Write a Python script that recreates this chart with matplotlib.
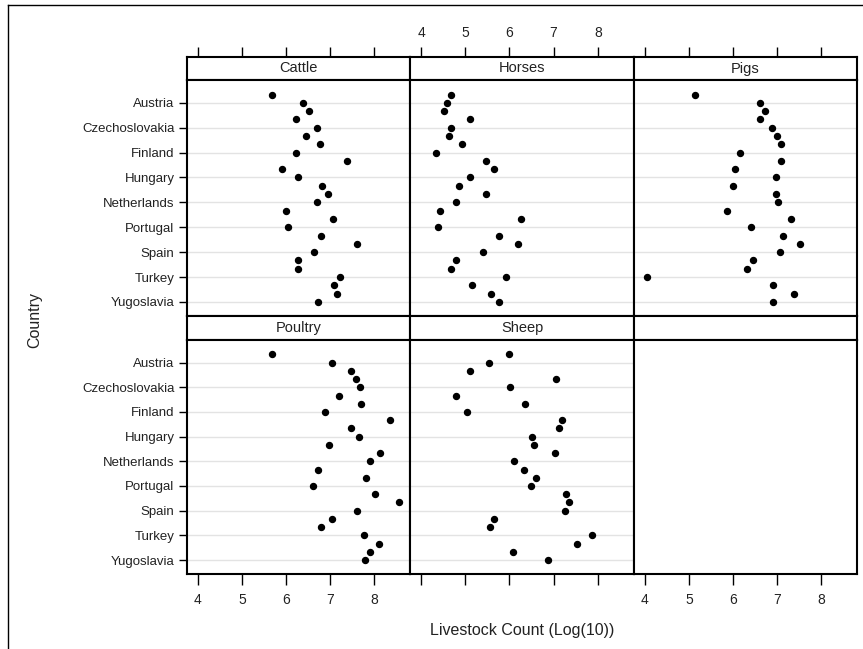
import numpy as np
import matplotlib
matplotlib.use('Agg')
import matplotlib.pyplot as plt
from matplotlib.lines import Line2D

plt.rcParams['font.family'] = ['Liberation Sans', 'DejaVu Sans']

# Data: log10 of livestock counts per country
paises = ['Albania', 'Austria', 'Belgium', 'Bulgaria', 'Czechoslovakia', 'Denmark',
          'East Germany', 'Finland', 'France', 'Greece', 'Hungary', 'Ireland', 'Italy',
          'Netherlands', 'Norway', 'Poland', 'Portugal', 'Romania', 'Soviet Union',
          'Spain', 'Sweden', 'Switzerland', 'Turkey', 'UK', 'West Germany', 'Yugoslavia']

cattle = [5.69, 6.39, 6.52, 6.23, 6.70, 6.45, 6.77, 6.23, 7.38, 5.91, 6.27, 6.83, 6.95,
          6.70, 5.99, 7.07, 6.05, 6.80, 7.62, 6.64, 6.27, 6.27, 7.23, 7.10, 7.16, 6.73]
horses = [4.67, 4.58, 4.52, 5.10, 4.67, 4.64, 4.92, 4.33, 5.47, 5.65, 5.10, 4.86, 5.47,
          4.80, 4.42, 6.27, 4.39, 5.77, 6.20, 5.41, 4.80, 4.67, 5.92, 5.16, 5.59, 5.77]
pigs = [5.13, 6.61, 6.73, 6.61, 6.88, 7.01, 7.10, 6.17, 7.10, 6.05, 6.98, 6.01, 6.98,
        7.03, 5.87, 7.31, 6.42, 7.14, 7.52, 7.06, 6.45, 6.33, 4.05, 6.92, 7.38, 6.92]
poultry = [5.69, 7.04, 7.47, 7.59, 7.68, 7.20, 7.71, 6.89, 8.36, 7.47, 7.65, 6.98, 8.14,
           7.92, 6.73, 7.81, 6.61, 8.02, 8.57, 7.62, 7.04, 6.80, 7.77, 8.11, 7.90, 7.80]
sheep = [5.98, 5.53, 5.10, 7.06, 6.01, 4.80, 6.36, 5.04, 7.19, 7.13, 6.52, 6.55, 7.03,
         6.11, 6.33, 6.61, 6.48, 7.28, 7.34, 7.25, 5.65, 5.56, 7.86, 7.52, 6.08, 6.88]

animais = ['Cattle', 'Horses', 'Pigs', 'Poultry', 'Sheep', '']
valores = [cattle, horses, pigs, poultry, sheep, None]
ticks_x = [4, 5, 6, 7, 8]

W, H = 863, 649
fig = plt.figure(figsize=(W / 100, H / 100), dpi=100)

def caixa(l, t, w, h):
    return fig.add_axes([l / W, 1 - (t + h) / H, w / W, h / H])

def bordas(ax):
    for s in ax.spines.values():
        s.set_linewidth(1.5)
        s.set_color('black')

colunas = [(187, 223), (410, 224), (634, 223)]
linhas = [(57, 23, 80, 236), (316, 24, 340, 234)]
xlim = (3.75, 8.82)
linhas_y = np.arange(len(paises))
y_marcadas = linhas_y[1::3]

for i in range(6):
    r, c = divmod(i, 3)
    l, w = colunas[c]
    th, hh, tp, hp = linhas[r]

    # Cabeçalho com o nome do animal
    cab = caixa(l, th, w, hh)
    cab.set_xlim(xlim)
    cab.set_yticks([])
    cab.text(0.5, 0.5, animais[i], ha='center', va='center', fontsize=10.5,
             color='#222222', transform=cab.transAxes)
    bordas(cab)
    if r == 0:
        cab.set_xticks(ticks_x)
        cab.tick_params(axis='x', top=True, bottom=False, labelbottom=False,
                        labeltop=(c == 1), direction='out', length=7, width=1,
                        pad=5, labelsize=10, labelcolor='#222222')
    else:
        cab.set_xticks([])

    # Painel com os pontos
    ax = caixa(l, tp, w, hp)
    ax.set_xlim(xlim)
    ax.set_ylim(len(paises) - 1 + 1.7, -1.75)
    bordas(ax)
    if valores[i] is not None:
        ax.set_yticks(y_marcadas)
        ax.grid(axis='y', color='#e3e3e3', linewidth=1)
        ax.set_axisbelow(True)
        ax.plot(valores[i], linhas_y, marker='o', color='black', linestyle='',
                markersize=4.3)
    else:
        ax.set_yticks([])
    if c == 0:
        ax.set_yticklabels(paises[1::3])
        ax.tick_params(axis='y', direction='out', length=6, width=1, pad=3,
                       labelsize=9.5, labelcolor='#222222')
    else:
        ax.tick_params(axis='y', length=0, labelleft=False)
    if r == 1:
        ax.set_xticks(ticks_x)
        ax.tick_params(axis='x', direction='out', length=8, width=1, pad=6,
                       labelsize=10, labelcolor='#222222', labelbottom=(c != 1))
    else:
        ax.set_xticks([])

fig.text(35 / W, 1 - 320 / H, 'Country', rotation=90, ha='center', va='center',
         fontsize=11.5, color='#222222')
fig.text(522 / W, 1 - 630 / H, 'Livestock Count (Log(10))', ha='center', va='center',
         fontsize=11.5, color='#222222')

# Moldura externa (só aparecem a esquerda e o topo)
fig.add_artist(Line2D([8 / W, 8 / W], [0, 1 - 5 / H], color='black', linewidth=1,
                      transform=fig.transFigure))
fig.add_artist(Line2D([8 / W, 1], [1 - 5 / H, 1 - 5 / H], color='black', linewidth=1,
                      transform=fig.transFigure))

plt.savefig('out.png', dpi=100)
